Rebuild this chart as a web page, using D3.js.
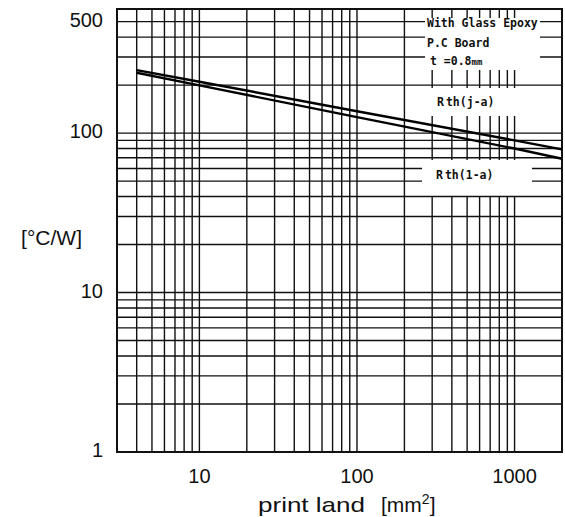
<!DOCTYPE html>
<html>
<head>
<meta charset="utf-8">
<style>
  body { margin: 0; background: #fff; }
  svg { display: block; }
  .tick { font-family: "Liberation Sans", Arial, sans-serif; font-size: 20px; fill: #111; }
  .title { font-family: "Liberation Sans", Arial, sans-serif; font-size: 21px; fill: #111; }
  .note { font-family: "DejaVu Sans Mono", monospace; font-weight: bold; font-size: 11.5px; fill: #111; }
</style>
</head>
<body>
<div id="container"></div>
<script src="https://cdn.jsdelivr.net/npm/d3@7"></script>
<script>
// values
const areas = [4, 10, 100, 1000, 2000];          // print land [mm2]
const rthJA = [248, 210, 137, 90, 79];           // Rth(j-a) [°C/W]
const rthLA = [239, 199, 126, 80, 69];           // Rth(l-a) [°C/W]
const xTickValues = [10, 100, 1000];
const yTickValues = [1, 10, 100, 500];
const xDomain = [3, 2000];
const yDomain = [1, 600];

const width = 565;
const height = 517;
const plotLeft = 117, plotRight = 562, plotTop = 9, plotBottom = 452;

const x = d3.scaleLog().domain(xDomain).range([plotLeft, plotRight]);
const y = d3.scaleLog().domain(yDomain).range([plotBottom, plotTop]);

const svg = d3.create("svg")
    .attr("width", width)
    .attr("height", height);

svg.append("rect").attr("width", width).attr("height", height).attr("fill", "#fff");

// grid values: 1..9 in every decade inside the domain
function decadeSteps(lo, hi) {
    const out = [];
    for (let p = 1; p <= 10000; p *= 10) {
        for (let m = 1; m < 10; m++) {
            const v = m * p;
            if (v > lo && v < hi) out.push(v);
        }
    }
    return out;
}
const gx = decadeSteps(xDomain[0], xDomain[1]);
const gy = decadeSteps(yDomain[0], yDomain[1]);

// vertical grid
svg.append("g")
    .selectAll("line")
    .data(gx)
    .join("line")
    .attr("x1", d => x(d)).attr("x2", d => x(d))
    .attr("y1", plotTop).attr("y2", plotBottom)
    .attr("stroke", "#111")
    .attr("stroke-width", 1.4);

// white areas where the vertical lines stop (note box and label bands)
const vCuts = [
    [408, 18, plotRight - 408, 52],
    [408, 88, plotRight - 408, 28],
    [410, 160, plotRight - 410, 36]
];
svg.append("g")
    .selectAll("rect")
    .data(vCuts)
    .join("rect")
    .attr("x", d => d[0]).attr("y", d => d[1])
    .attr("width", d => d[2]).attr("height", d => d[3])
    .attr("fill", "#fff");

// horizontal grid
svg.append("g")
    .selectAll("line")
    .data(gy)
    .join("line")
    .attr("x1", plotLeft).attr("x2", plotRight)
    .attr("y1", d => y(d)).attr("y2", d => y(d))
    .attr("stroke", "#111")
    .attr("stroke-width", 1.4);

const hCuts = [
    [425, 19, 115, 50],
    [422, 163, 110, 25]
];
svg.append("g")
    .selectAll("rect")
    .data(hCuts)
    .join("rect")
    .attr("x", d => d[0]).attr("y", d => d[1])
    .attr("width", d => d[2]).attr("height", d => d[3])
    .attr("fill", "#fff");

// frame
svg.append("rect")
    .attr("x", plotLeft).attr("y", plotTop)
    .attr("width", plotRight - plotLeft).attr("height", plotBottom - plotTop)
    .attr("fill", "none")
    .attr("stroke", "#111")
    .attr("stroke-width", 2);

// curves
const line = d3.line()
    .x(d => x(d[0]))
    .y(d => y(d[1]));

[rthJA, rthLA].forEach(vals => {
    svg.append("path")
        .datum(areas.map((a, i) => [a, vals[i]]))
        .attr("d", line)
        .attr("fill", "none")
        .attr("stroke", "#000")
        .attr("stroke-width", 2.4);
});

// tick labels
svg.append("g")
    .selectAll("text")
    .data(yTickValues)
    .join("text")
    .attr("class", "tick")
    .attr("x", 103)
    .attr("y", d => y(d) - 2)
    .attr("dy", "0.35em")
    .attr("text-anchor", "end")
    .text(d => d);

svg.append("g")
    .selectAll("text")
    .data(xTickValues)
    .join("text")
    .attr("class", "tick")
    .attr("x", d => x(d))
    .attr("y", 483)
    .attr("text-anchor", "middle")
    .text(d => d);

// axis titles
svg.append("text")
    .attr("class", "title")
    .attr("x", 82).attr("y", 245)
    .attr("text-anchor", "end")
    .text("[°C/W]");

svg.append("text")
    .attr("class", "title")
    .attr("x", 258).attr("y", 512)
    .attr("font-size", 22)
    .attr("textLength", 107)
    .attr("lengthAdjust", "spacingAndGlyphs")
    .text("print land");

svg.append("text")
    .attr("class", "title")
    .attr("x", 381).attr("y", 512)
    .attr("font-size", 22)
    .html('[mm<tspan dy="-8" font-size="14">2</tspan><tspan dy="8">]</tspan>');

// notes
const notes = svg.append("g").attr("class", "note");
notes.append("text").attr("x", 427).attr("y", 27).text("With Glass Epoxy");
notes.append("text").attr("x", 427).attr("y", 46.5).text("P.C Board");
notes.append("text").attr("x", 430).attr("y", 65)
    .html('t =0.8<tspan font-size="9">mm</tspan>');
notes.append("text").attr("x", 437).attr("y", 106)
    .html('R<tspan dx="2">th(j-a)</tspan>');
notes.append("text").attr("x", 436).attr("y", 178.5)
    .html('R<tspan dx="2">th(1-a)</tspan>');

container.append(svg.node());
</script>
</body>
</html>
